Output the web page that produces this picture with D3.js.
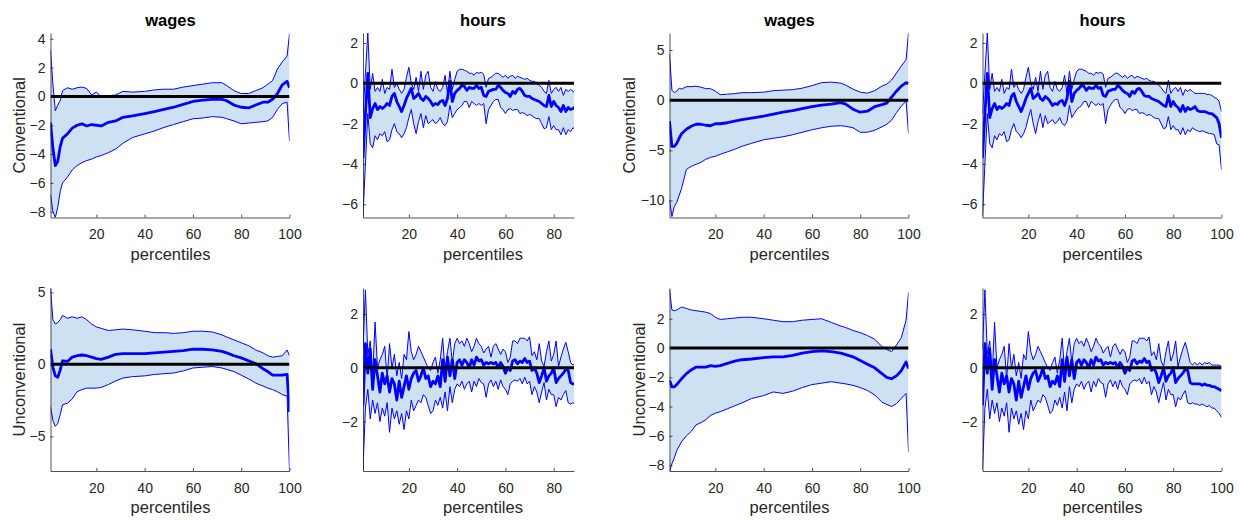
<!DOCTYPE html>
<html>
<head>
<meta charset="utf-8">
<script src="https://cdn.jsdelivr.net/npm/d3@7"></script>
<style>
  body { margin: 0; background: #fff; }
  svg { font-family: "Liberation Sans", Arial, sans-serif; }
</style>
</head>
<body>
<svg id="chart" width="1240" height="520"></svg>
<script>
// percentiles on the x axis
const percentiles = d3.range(1, 101);
const wageX = [1,2,3,4,5,6,8,10,12,14,16,18,20,22,25,28,31,35,40,44,48,52,56,60,64,68,72,74,77,80,83,86,89,91,93,95,97,99,100];
const xTicks = [20, 40, 60, 80, 100];

// wages, conventional (column 1)
const wagesConvA_mid = [-1.8,-3.6,-4.8,-4.5,-3.5,-2.9,-2.6,-2.2,-2.0,-1.9,-2.05,-1.95,-2.0,-2.05,-1.8,-1.7,-1.45,-1.35,-1.2,-1.05,-0.9,-0.75,-0.55,-0.35,-0.25,-0.2,-0.2,-0.3,-0.6,-0.75,-0.8,-0.6,-0.4,-0.4,-0.2,0.2,0.8,1.05,0.6];
const wagesConvA_hi  = [3.2,0.8,-1.0,-0.6,-0.3,0.4,0.6,0.5,0.6,0.65,0.55,0.1,0.3,0.0,0.05,0.1,0.35,0.3,0.35,0.45,0.5,0.5,0.65,0.75,0.85,0.95,0.95,0.75,0.4,0.2,0.2,0.4,0.6,0.85,1.1,1.9,2.4,2.8,4.35];
const wagesConvA_lo  = [-6.8,-8.0,-8.4,-7.7,-6.6,-6.0,-5.6,-5.1,-4.8,-4.6,-4.45,-4.35,-4.2,-4.1,-3.9,-3.65,-3.25,-2.85,-2.6,-2.4,-2.15,-1.95,-1.75,-1.55,-1.5,-1.4,-1.45,-1.55,-1.7,-1.9,-1.85,-1.8,-1.75,-1.7,-1.45,-0.9,-0.5,-0.4,-3.1];

// wages, conventional (column 3)
const wagesConvB_mid = [-2.1,-4.6,-4.6,-4.3,-3.8,-3.35,-2.9,-2.6,-2.4,-2.4,-2.5,-2.55,-2.35,-2.35,-2.25,-2.1,-1.95,-1.8,-1.6,-1.4,-1.2,-1.05,-0.85,-0.65,-0.5,-0.4,-0.25,-0.4,-0.9,-1.2,-1.1,-0.65,-0.45,-0.3,0.3,0.9,1.4,1.75,1.65];
const wagesConvB_hi  = [4.6,1.0,0.75,0.9,1.2,1.1,1.35,1.35,1.4,1.3,1.15,1.15,0.9,0.55,0.6,0.65,0.75,0.75,0.8,0.95,1.0,1.05,1.2,1.45,1.75,1.8,1.7,1.5,1.1,0.8,0.7,0.95,1.4,1.6,2.0,2.7,3.4,4.05,6.7];
const wagesConvB_lo  = [-9.95,-11.6,-10.6,-10.2,-9.5,-8.8,-6.9,-6.6,-6.4,-6.2,-5.9,-5.7,-5.6,-5.4,-5.15,-4.9,-4.6,-4.3,-3.95,-3.8,-3.65,-3.45,-3.2,-2.95,-2.75,-2.6,-2.55,-2.6,-2.75,-3.2,-3.2,-3.0,-2.65,-2.4,-2.0,-1.25,-0.6,-0.1,-3.3];

// wages, unconventional (column 1)
const wagesUncA_mid = [1.05,-0.2,-0.8,-0.9,-0.4,0.25,0.2,0.5,0.6,0.65,0.6,0.5,0.4,0.35,0.5,0.7,0.75,0.75,0.75,0.8,0.85,0.9,0.95,1.05,1.05,1.0,0.9,0.8,0.6,0.45,0.25,0.05,-0.3,-0.5,-0.75,-0.75,-0.75,-0.7,-3.3];
const wagesUncA_hi  = [5.3,3.1,2.8,2.9,3.1,3.4,3.2,3.3,3.2,3.3,3.1,2.8,2.6,2.5,2.35,2.4,2.45,2.4,2.3,2.2,2.2,2.15,2.2,2.3,2.3,2.25,2.05,1.9,1.7,1.5,1.3,1.0,0.8,0.6,0.5,0.55,0.6,1.0,0.6];
const wagesUncA_lo  = [-2.95,-3.9,-4.3,-4.1,-3.5,-2.8,-2.7,-2.4,-1.9,-1.75,-1.65,-1.65,-1.65,-1.6,-1.4,-1.15,-0.95,-0.85,-0.8,-0.7,-0.65,-0.6,-0.45,-0.25,-0.2,-0.15,-0.25,-0.35,-0.5,-0.75,-1.0,-1.3,-1.5,-1.65,-1.75,-1.9,-2.1,-2.2,-7.4];

// wages, unconventional (column 3)
const wagesUncB_mid = [-2.2,-2.65,-2.65,-2.5,-2.3,-2.1,-1.75,-1.5,-1.3,-1.3,-1.3,-1.2,-1.25,-1.2,-1.05,-0.9,-0.8,-0.75,-0.65,-0.6,-0.6,-0.5,-0.35,-0.25,-0.2,-0.25,-0.35,-0.45,-0.6,-0.85,-1.1,-1.35,-1.75,-2.0,-2.1,-1.9,-1.55,-0.95,-1.4];
const wagesUncB_hi  = [4.0,2.6,2.55,2.6,2.7,2.8,2.7,2.6,2.55,2.5,2.45,2.35,2.1,1.95,2.0,2.05,2.1,2.1,2.0,1.9,1.8,1.8,1.9,1.95,2.0,1.75,1.5,1.4,1.2,1.05,0.85,0.6,0.1,-0.1,-0.25,0.2,0.7,1.9,3.8];
const wagesUncB_lo  = [-8.45,-7.9,-7.5,-7.0,-6.7,-6.4,-6.0,-5.7,-5.25,-5.1,-4.9,-4.6,-4.45,-4.35,-4.15,-3.95,-3.75,-3.45,-3.25,-3.0,-3.1,-2.95,-2.7,-2.5,-2.4,-2.3,-2.4,-2.45,-2.55,-2.7,-2.9,-3.2,-3.7,-3.85,-4.0,-3.8,-3.45,-3.1,-7.1];

// hours, conventional (columns 2 and 4)
const hoursConv_mid = [-3.7,-1.5,0.5,-1.7,-1.25,-1.0,-1.3,-1.15,-1.25,-1.15,
  -1.0,-1.1,-0.65,-0.5,-0.9,-1.15,-1.4,-1.1,-0.75,-0.5,
  -0.25,-0.75,-0.65,-0.5,-0.75,-0.85,-0.65,-0.75,-0.9,-1.1,
  -1.0,-1.05,-0.9,-0.85,-1.1,-0.75,0.1,-0.9,-0.5,-0.35,
  -0.25,-0.1,-0.15,-0.35,-0.2,-0.25,-0.25,-0.1,-0.25,-0.2,
  -0.6,-0.65,-0.4,-0.35,-0.3,-0.3,-0.1,-0.2,-0.35,-0.45,
  -0.5,-0.65,-0.4,-0.5,-0.3,-0.25,-0.4,-0.6,-0.65,-0.65,
  -0.75,-0.8,-0.85,-0.9,-1.0,-1.1,-1.15,-0.6,-1.15,-0.9,
  -1.1,-1.2,-1.4,-1.1,-1.4,-1.2,-1.3,-1.25,-1.15,-1.35,
  -1.4,-1.4,-1.4,-1.45,-1.5,-1.5,-1.6,-1.7,-2.0,-2.7];
const hoursConv_hi = [-1.5,0.5,2.5,-0.3,0.5,-0.4,-0.2,-0.4,0.2,-0.5,
  -0.2,-0.3,0.7,-0.2,0.0,-0.3,-0.5,-0.3,0.3,0.8,
  0.0,-0.3,0.3,-0.4,0.6,-0.3,0.4,0.6,-0.2,-0.4,
  0.1,-0.3,-0.4,-0.2,0.4,-0.5,0.6,-0.3,0.2,0.6,
  0.7,0.7,0.65,0.6,0.5,0.5,0.4,0.55,0.5,0.55,
  0.45,-0.2,0.25,0.3,0.4,0.5,0.5,0.4,0.3,0.4,
  0.25,0.35,0.4,0.25,0.35,0.3,0.25,0.2,0.25,0.15,
  0.1,0.1,0.0,-0.1,-0.2,-0.4,-0.5,0.15,-0.5,-0.3,
  -0.2,-0.4,-0.2,-0.6,-0.3,-0.4,-0.3,-0.4,-0.5,-0.5,
  -0.5,-0.5,-0.5,-0.55,-0.55,-0.6,-0.7,-0.75,-0.9,-1.4];
const hoursConv_lo = [-6.6,-4.0,-1.5,-3.0,-3.2,-2.6,-2.8,-2.5,-2.6,-2.4,
  -2.9,-2.8,-2.3,-2.0,-2.4,-2.5,-2.7,-2.5,-2.2,-1.7,
  -1.3,-2.0,-2.5,-1.9,-1.5,-2.2,-1.6,-2.0,-1.9,-1.8,
  -2.0,-1.9,-1.7,-2.0,-2.1,-1.9,-1.1,-1.7,-1.5,-1.3,
  -1.2,-1.1,-0.9,-0.9,-1.2,-0.9,-1.0,-1.1,-1.0,-1.1,
  -1.0,-2.0,-1.3,-1.1,-0.9,-0.8,-0.8,-1.2,-1.3,-1.5,
  -1.3,-1.25,-1.35,-1.3,-1.3,-1.5,-1.45,-1.5,-1.6,-1.55,
  -1.6,-1.7,-1.75,-1.75,-2.0,-2.25,-2.2,-1.65,-2.3,-2.1,
  -2.3,-2.3,-2.55,-2.2,-2.55,-2.3,-2.4,-2.2,-2.3,-2.35,
  -2.4,-2.35,-2.4,-2.45,-2.5,-2.5,-2.55,-3.0,-3.05,-4.3];

// hours, unconventional (columns 2 and 4)
const hoursUnc_mid = [-1.4,0.9,-0.2,0.7,-0.8,0.3,-0.3,-0.9,-0.2,-0.6,
  -0.3,-0.9,-0.4,-0.6,-1.2,-0.5,-1.1,-0.7,-0.3,-0.8,
  -0.4,-0.2,-0.1,-0.5,-0.3,0.0,-0.4,-0.3,-0.7,-0.5,
  -0.6,-0.3,-0.7,0.3,-0.5,0.4,-0.3,0.3,-0.4,0.2,
  0.3,0.1,0.3,0.2,0.0,0.3,0.1,0.4,0.25,0.3,
  0.1,0.2,0.15,0.2,0.15,0.2,0.0,0.2,0.05,-0.2,
  0.0,-0.1,0.25,0.3,0.15,0.25,0.2,0.35,0.2,0.25,
  -0.1,0.0,-0.2,-0.55,-0.3,0.0,-0.5,-0.3,-0.2,0.0,
  -0.55,-0.4,-0.3,-0.2,-0.05,-0.1,-0.55,-0.6,-0.6,-0.6,
  -0.6,-0.65,-0.6,-0.65,-0.65,-0.7,-0.7,-0.75,-0.8,-0.85];
const hoursUnc_hi = [0.7,2.9,0.5,1.0,-0.3,1.7,0.0,0.3,0.5,0.8,
  -0.4,0.9,0.0,0.5,-0.3,0.2,-0.4,0.5,0.3,1.35,
  0.6,0.3,0.5,0.8,0.6,0.4,0.2,0.0,-0.1,0.2,
  0.4,-0.2,0.3,1.1,-0.1,0.6,1.1,0.2,0.9,1.1,
  0.9,1.0,0.8,1.1,0.9,0.6,0.8,1.1,0.9,0.8,
  0.55,0.7,0.8,0.4,0.8,0.9,0.7,0.5,0.7,0.6,
  0.2,0.4,1.0,1.0,0.9,1.1,1.1,1.1,1.0,1.15,
  0.45,0.6,0.3,0.9,0.25,0.05,0.6,1.0,0.25,0.5,
  1.0,0.05,0.4,0.7,0.95,0.6,0.2,0.1,0.2,0.1,
  0.2,0.1,0.2,0.15,0.2,0.1,0.1,0.1,0.1,0.05];
const hoursUnc_lo = [-3.8,-1.5,-0.8,-1.9,-1.2,-1.7,-1.3,-2.0,-1.5,-1.8,
  -1.3,-2.4,-1.5,-1.9,-1.6,-2.1,-1.7,-2.3,-1.6,-1.9,
  -1.2,-1.6,-1.4,-1.2,-1.3,-1.0,-1.1,-1.4,-1.7,-1.6,
  -1.2,-1.4,-1.1,-1.5,-0.9,-1.6,-0.7,-1.3,-0.8,-0.6,
  -0.7,-0.5,-0.8,-0.6,-0.5,-0.9,-0.5,-0.7,-0.4,-0.55,
  -0.6,-1.1,-0.6,-0.45,-0.7,-0.5,-0.8,-0.45,-0.7,-0.8,
  -1.0,-0.6,-0.5,-0.45,-0.5,-0.4,-0.6,-0.35,-0.6,-0.5,
  -1.0,-0.7,-0.9,-1.3,-0.9,-0.55,-1.2,-0.8,-1.0,-1.0,
  -1.45,-1.1,-1.2,-1.0,-0.85,-1.3,-1.35,-1.3,-1.35,-1.35,
  -1.4,-1.35,-1.4,-1.45,-1.4,-1.5,-1.5,-1.6,-1.7,-1.85];

const yTicksP1 = [-8, -6, -4, -2, 0, 2, 4];
const yTicksHoursConv = [-6, -4, -2, 0, 2];
const yTicksP3 = [-10, -5, 0, 5];
const yTicksP5 = [-5, 0, 5];
const yTicksHoursUnc = [-2, 0, 2];
const yTicksP7 = [-8, -6, -4, -2, 0, 2];

// layout
const colLeft = [50.5, 363, 669.5, 982.5];
const plotW = 239;
const rowTop = [33, 288], rowBottom = [217.5, 471];
const ink = "#262626";

const panels = [
  {col: 0, row: 0, title: "wages", ylab: "Conventional", labX: 25, x: wageX, mid: wagesConvA_mid, hi: wagesConvA_hi, lo: wagesConvA_lo, ydom: [-8.4, 4.4], yt: yTicksP1, xmax: 100},
  {col: 1, row: 0, title: "hours", x: percentiles, mid: hoursConv_mid, hi: hoursConv_hi, lo: hoursConv_lo, ydom: [-6.66, 2.5], yt: yTicksHoursConv, xmax: 88.4},
  {col: 2, row: 0, title: "wages", ylab: "Conventional", labX: 635, x: wageX, mid: wagesConvB_mid, hi: wagesConvB_hi, lo: wagesConvB_lo, ydom: [-11.7, 6.7], yt: yTicksP3, xmax: 100},
  {col: 3, row: 0, title: "hours", x: percentiles, mid: hoursConv_mid, hi: hoursConv_hi, lo: hoursConv_lo, ydom: [-6.66, 2.5], yt: yTicksHoursConv, xmax: 100},
  {col: 0, row: 1, ylab: "Unconventional", labX: 25, x: wageX, mid: wagesUncA_mid, hi: wagesUncA_hi, lo: wagesUncA_lo, ydom: [-7.4, 5.3], yt: yTicksP5, xmax: 100},
  {col: 1, row: 1, x: percentiles, mid: hoursUnc_mid, hi: hoursUnc_hi, lo: hoursUnc_lo, ydom: [-3.84, 2.97], yt: yTicksHoursUnc, xmax: 88.4},
  {col: 2, row: 1, ylab: "Unconventional", labX: 645, x: wageX, mid: wagesUncB_mid, hi: wagesUncB_hi, lo: wagesUncB_lo, ydom: [-8.4, 4.1], yt: yTicksP7, xmax: 100},
  {col: 3, row: 1, x: percentiles, mid: hoursUnc_mid, hi: hoursUnc_hi, lo: hoursUnc_lo, ydom: [-3.84, 2.97], yt: yTicksHoursUnc, xmax: 100}
];

const svg = d3.select("#chart");

panels.forEach((p, i) => {
  const left = colLeft[p.col], top = rowTop[p.row], bottom = rowBottom[p.row];
  const x = d3.scaleLinear().domain([1, 100]).range([left, left + plotW]);
  const right = x(p.xmax);
  const xAx = d3.scaleLinear().domain([1, p.xmax]).range([left, right]);
  const y = d3.scaleLinear().domain(p.ydom).range([bottom, top]);
  const g = svg.append("g");

  g.append("clipPath").attr("id", "clip" + i)
    .append("rect").attr("x", left).attr("y", top)
    .attr("width", right - left).attr("height", bottom - top);

  const pts = p.x.map((v, j) => ({x: v, mid: p.mid[j], hi: p.hi[j], lo: p.lo[j]}));
  const plot = g.append("g").attr("clip-path", `url(#clip${i})`);

  plot.append("path").datum(pts)
    .attr("d", d3.area().x(d => x(d.x)).y0(d => y(d.lo)).y1(d => y(d.hi)))
    .attr("fill", "#cde1f2");
  ["hi", "lo"].forEach(k => {
    plot.append("path").datum(pts)
      .attr("d", d3.line().x(d => x(d.x)).y(d => y(d[k])))
      .attr("fill", "none").attr("stroke", "#0000ff").attr("stroke-width", 1);
  });
  plot.append("path").datum(pts)
    .attr("d", d3.line().x(d => x(d.x)).y(d => y(d.mid)))
    .attr("fill", "none").attr("stroke", "#0000ff").attr("stroke-width", 2.8)
    .attr("stroke-linejoin", "round");
  plot.append("line")
    .attr("x1", left).attr("x2", right).attr("y1", y(0)).attr("y2", y(0))
    .attr("stroke", "#000").attr("stroke-width", 3);

  // axes
  const gx = g.append("g").attr("transform", `translate(0,${bottom})`)
    .call(d3.axisBottom(xAx).tickValues(xTicks.filter(t => t <= p.xmax))
      .tickSize(-3).tickSizeOuter(0).tickPadding(12));
  const gy = g.append("g").attr("transform", `translate(${left},0)`)
    .call(d3.axisLeft(y).tickValues(p.yt).tickFormat(d3.format("d"))
      .tickSize(-3).tickSizeOuter(0).tickPadding(5));
  [gx, gy].forEach(a => {
    a.selectAll("path,line").attr("stroke", ink).attr("stroke-width", 0.8);
    a.selectAll("text").attr("fill", ink).style("font-size", "14px")
      .style("font-family", '"Liberation Sans", Arial, sans-serif');
  });

  g.append("text").attr("x", left + 120).attr("y", bottom + 42)
    .attr("text-anchor", "middle").attr("fill", ink).style("font-size", "16.5px")
    .text("percentiles");
  if (p.title) {
    g.append("text").attr("x", left + 120).attr("y", 26)
      .attr("text-anchor", "middle").attr("fill", "#000")
      .style("font-size", "16.5px").style("font-weight", "bold").text(p.title);
  }
  if (p.ylab) {
    g.append("text")
      .attr("transform", `translate(${p.labX},${(top + bottom) / 2}) rotate(-90)`)
      .attr("text-anchor", "middle").attr("fill", ink).style("font-size", "16.5px")
      .text(p.ylab);
  }
});
</script>
</body>
</html>
